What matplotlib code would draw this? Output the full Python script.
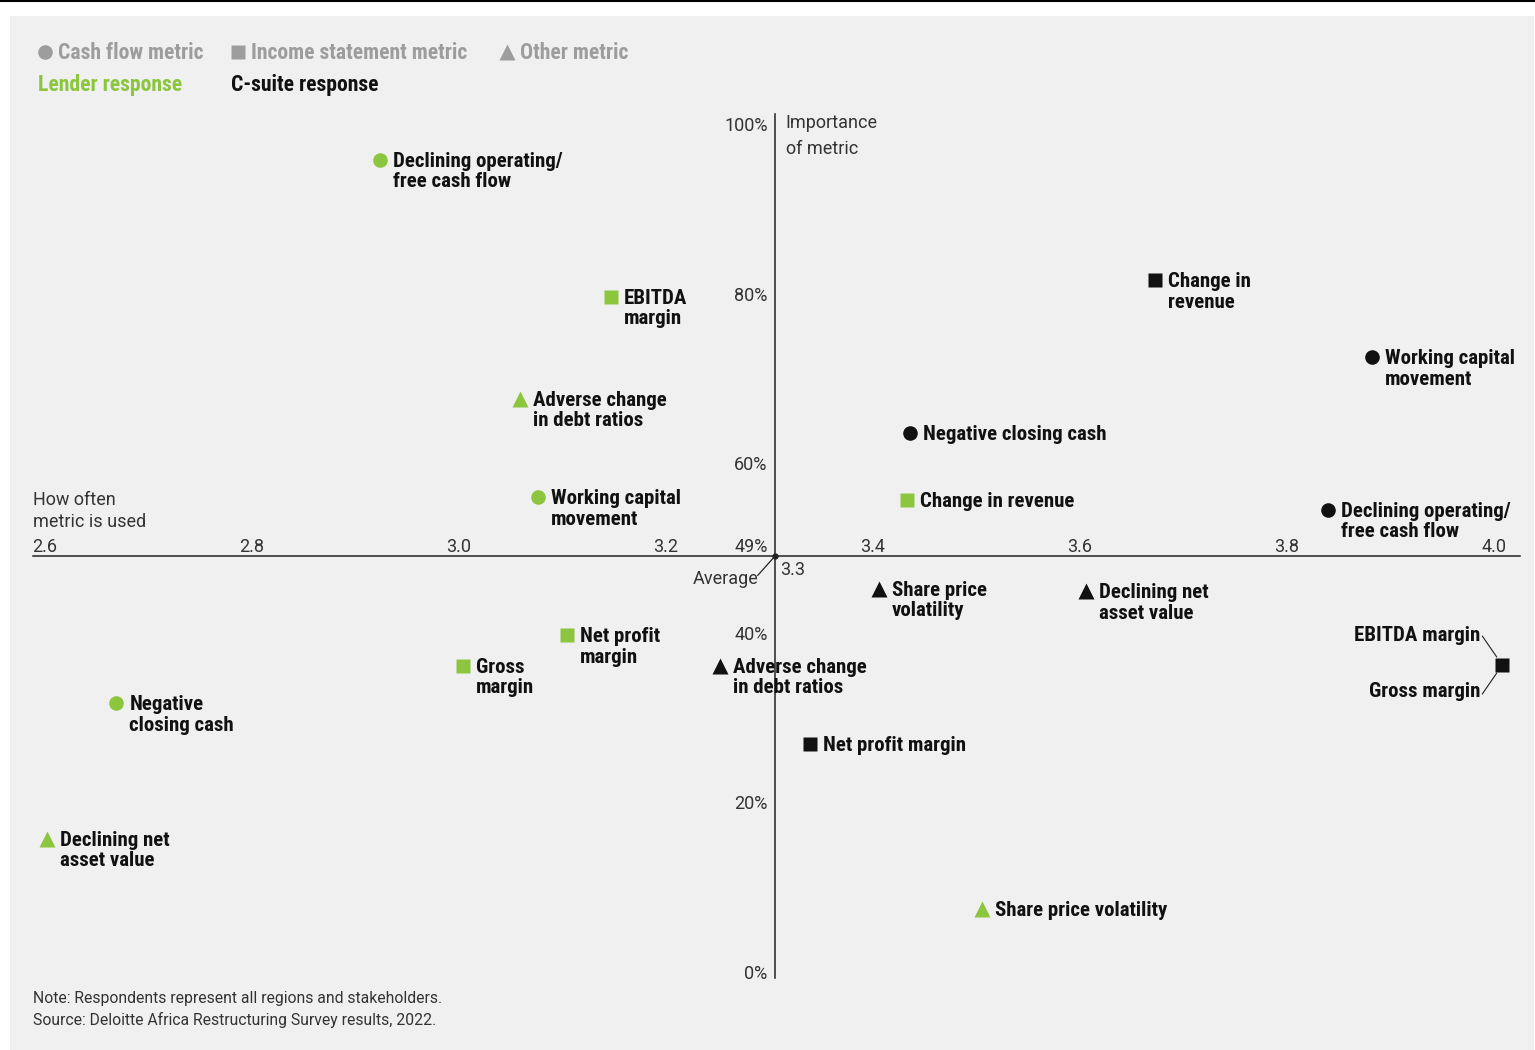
import matplotlib.pyplot as plt
from matplotlib import font_manager
from matplotlib.lines import Line2D
from matplotlib.patches import Rectangle

# ---- data ----
lender_labels = ['Declining operating/\nfree cash flow', 'Working capital\nmovement', 'Negative\nclosing cash',
                 'EBITDA\nmargin', 'Change in revenue', 'Net profit\nmargin', 'Gross\nmargin',
                 'Adverse change\nin debt ratios', 'Declining net\nasset value', 'Share price volatility']
lender_kinds = ['cash', 'cash', 'cash', 'income', 'income', 'income', 'income', 'other', 'other', 'other']
lender_freq = [2.924, 3.076, 2.669, 3.147, 3.433, 3.104, 3.004, 3.059, 2.602, 3.505]
lender_imp = [95.8, 56.0, 31.7, 79.6, 55.7, 39.7, 36.1, 67.6, 15.7, 7.4]

csuite_labels = ['Declining operating/\nfree cash flow', 'Working capital\nmovement', 'Negative closing cash',
                 'Change in\nrevenue', 'Net profit margin', 'Adverse change\nin debt ratios',
                 'Declining net\nasset value', 'Share price\nvolatility']
csuite_kinds = ['cash', 'cash', 'cash', 'income', 'income', 'other', 'other', 'other']
csuite_freq = [3.840, 3.882, 3.436, 3.672, 3.339, 3.252, 3.606, 3.406]
csuite_imp = [54.5, 72.5, 63.6, 81.6, 26.9, 36.1, 44.9, 45.2]

# EBITDA margin and Gross margin share one C-suite point
csuite_shared = ['EBITDA margin', 'Gross margin']
csuite_shared_freq = 4.008
csuite_shared_imp = 36.2

avg_freq = 3.305
avg_imp = 49
x_ticks = [2.6, 2.8, 3.0, 3.2, 3.4, 3.6, 3.8, 4.0]
y_ticks = [0, 20, 40, 60, 80, 100]

GREEN = '#8cc63f'
BLACK = '#111111'
GREY = '#9d9d9d'
AXIS = '#222222'
TXT = '#333333'
markers = {'cash': 'o', 'income': 's', 'other': '^'}
msize = {'cash': 10.5, 'income': 10, 'other': 11.5}

# pick a narrow face if one is installed
names = {f.name for f in font_manager.fontManager.ttflist}
STRETCH = 'normal'
LABEL_FS = 12.5
for cand in ['Roboto Condensed', 'Liberation Sans Narrow', 'Noto Sans Condensed', 'Open Sans Condensed']:
    if cand in names:
        BOLD = [cand, 'DejaVu Sans']
        LABEL_FS = 15
        break
else:
    if any(f.name == 'Noto Sans' and f.stretch in ('condensed', 'semi-condensed', 75, 87.5)
           for f in font_manager.fontManager.ttflist):
        BOLD = ['Noto Sans', 'DejaVu Sans']
        STRETCH = 'condensed'
        LABEL_FS = 14
    else:
        BOLD = ['Roboto', 'DejaVu Sans']
REG = ['Roboto', 'DejaVu Sans']

W, H = 1535, 1050
fig = plt.figure(figsize=(W / 100, H / 100), dpi=100)
fig.patch.set_facecolor('white')


def fx(px):
    return px / W


def fy(py):
    return 1 - py / H


# grey panel and top rule
fig.patches.append(Rectangle((fx(10), 0), fx(1524), 1 - 16 / H, transform=fig.transFigure,
                             facecolor='#f0f0f0', edgecolor='none', zorder=-5))
fig.add_artist(Line2D([0, 1], [fy(0.8), fy(0.8)], transform=fig.transFigure, color='black', lw=1.5))

ax = fig.add_axes([0, 0, 1, 1])
ax.set_zorder(2)
ax.axis('off')
ax.patch.set_alpha(0)

# crossing axes
ax.plot([2.588, 4.025], [avg_imp, avg_imp], color=AXIS, lw=1.1, zorder=1)
ax.plot([avg_freq, avg_freq], [-0.7, 101.2], color=AXIS, lw=1.1, zorder=1)
ax.plot([avg_freq], [avg_imp], 'o', ms=3.5, color=AXIS, zorder=3)

tick_kw = dict(textcoords='offset pixels', fontsize=13, color=TXT, family=REG, fontweight='normal')
for t in x_ticks:
    ax.annotate('{:.1f}'.format(t), (t, avg_imp), xytext=(0, 0), ha='center', va='bottom', **tick_kw)
for t in y_ticks:
    ax.annotate('{}%'.format(t), (avg_freq, t), xytext=(-7, -2), ha='right', va='center', **tick_kw)
ax.annotate('49%', (avg_freq, avg_imp), xytext=(-7, 0), ha='right', va='bottom', **tick_kw)
ax.annotate('3.3', (avg_freq, avg_imp), xytext=(5, -14), ha='left', va='center', **tick_kw)
ax.annotate('', (avg_freq, avg_imp), xytext=(-17, -19), textcoords='offset pixels',
            arrowprops=dict(arrowstyle='-', color=AXIS, lw=0.9, shrinkA=0, shrinkB=0))
ax.annotate('Average', (avg_freq, avg_imp), xytext=(-16, -23), ha='right', va='center', **tick_kw)

ax.annotate('How often\nmetric is used', (x_ticks[0], avg_imp), xytext=(-12, 25), ha='left', va='bottom',
            linespacing=1.3, **tick_kw)
ax.annotate('Importance\nof metric', (avg_freq, 100), xytext=(11, 10), ha='left', va='top',
            linespacing=1.55, **tick_kw)

lab_kw = dict(textcoords='offset pixels', fontsize=LABEL_FS, fontweight='bold', fontstretch=STRETCH,
              color=BLACK, family=BOLD)


def draw_points(freq, imp, kinds, labels, color):
    for x, y, k, lab in zip(freq, imp, kinds, labels):
        ax.plot([x], [y], markers[k], ms=msize[k], color=color, mec='none', zorder=4)
        ax.annotate(lab, (x, y), xytext=(13, 8), ha='left', va='top', linespacing=1.1, zorder=5, **lab_kw)


draw_points(lender_freq, lender_imp, lender_kinds, lender_labels, GREEN)
draw_points(csuite_freq, csuite_imp, csuite_kinds, csuite_labels, BLACK)

# shared C-suite point with leader lines
ax.plot([csuite_shared_freq], [csuite_shared_imp], 's', ms=10, color=BLACK, mec='none', zorder=4)
for lab, dy in zip(csuite_shared, [30, -26]):
    ax.annotate(lab, (csuite_shared_freq, csuite_shared_imp), xytext=(-22, dy), ha='right', va='center', **lab_kw)
    sgn = 1 if dy > 0 else -1
    ax.annotate('', (csuite_shared_freq, csuite_shared_imp), xytext=(-20, sgn * 29), textcoords='offset pixels',
                arrowprops=dict(arrowstyle='-', color=AXIS, lw=0.8, shrinkA=0, shrinkB=7))

ax.set_xlim(2.6 - 45 / 1035, 2.6 + 1490 / 1035)
ax.set_ylim(100 - 926 / 8.48, 100 + 124 / 8.48)

# legend
leg_kw = dict(fontsize=LABEL_FS + 0.6, fontweight='bold', fontstretch=STRETCH, family=BOLD, ha='left',
              va='center')
legend_items = [('cash', 'Cash flow metric', 45), ('income', 'Income statement metric', 238),
                ('other', 'Other metric', 507)]
for k, txt, px in legend_items:
    fig.add_artist(Line2D([fx(px)], [fy(52)], marker=markers[k], ms=msize[k], color=GREY, mec='none',
                          linestyle='none', transform=fig.transFigure))
    fig.text(fx(px + 13), fy(53), txt, color=GREY, **leg_kw)
fig.text(fx(38), fy(85), 'Lender response', color=GREEN, **leg_kw)
fig.text(fx(231), fy(85), 'C-suite response', color=BLACK, **leg_kw)

fig.text(fx(33), fy(998), 'Note: Respondents represent all regions and stakeholders.', ha='left', va='center',
         fontsize=11.3, color=TXT, family=REG)
fig.text(fx(33), fy(1020), 'Source: Deloitte Africa Restructuring Survey results, 2022.', ha='left', va='center',
         fontsize=11.3, color=TXT, family=REG)

fig.savefig('out.png', dpi=100, facecolor='white')
